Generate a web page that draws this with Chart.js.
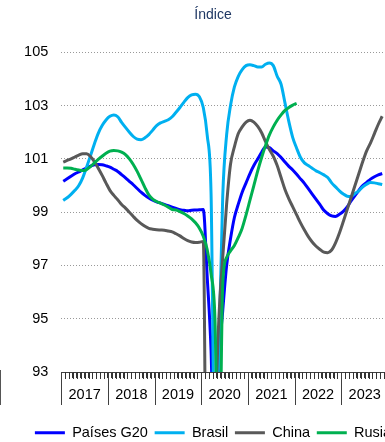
<!DOCTYPE html>
<html lang="es">
<head>
<meta charset="utf-8">
<title>Índice</title>
<script src="https://cdn.jsdelivr.net/npm/chart.js@4.4.1/dist/chart.umd.min.js"></script>
<style>
  html, body { margin: 0; padding: 0; background: #fff; overflow: hidden; }
  #wrap { position: relative; width: 385px; height: 442px; overflow: hidden; }
  #chart { position: absolute; left: 0; top: 0; }
  .edge { position: absolute; left: 0; top: 370px; width: 1px; height: 35px; background: #555; }
</style>
</head>
<body>
<div id="wrap">
  <canvas id="chart" width="426" height="450"></canvas>
  <div class="edge"></div>
</div>
<script>
// índice mensual, enero 2017 en adelante
const years = ["2017", "2018", "2019", "2020", "2021", "2022", "2023"];
const seriesNames = ["Países G20", "Brasil", "China", "Rusia"];

const g20 = [
  100.16, 100.25, 100.35, 100.44, 100.51, 100.59, 100.66, 100.73, 100.78, 100.79, 100.78, 100.74,
  100.69, 100.61, 100.53, 100.41, 100.29, 100.16, 100.03, 99.89, 99.75, 99.63, 99.53, 99.45,
  99.39, 99.34, 99.29, 99.24, 99.19, 99.14, 99.09, 99.07, 99.05, 99.07, 99.08, 99.09,
  99.1, 96.6, 93.8, 88.5, 93.3, 95.3, 97.0, 98.0, 98.8, 99.3, 99.75, 100.1,
  100.45, 100.75, 101.0, 101.25, 101.45, 101.42, 101.3, 101.2, 101.05, 100.88, 100.72, 100.58,
  100.42, 100.25, 100.08, 99.88, 99.68, 99.48, 99.28, 99.07, 98.94, 98.86, 98.84, 98.92,
  99.03, 99.2, 99.42, 99.62, 99.82, 100.0, 100.12, 100.24, 100.33, 100.4, 100.45,
];

const brasil = [
  99.44, 99.54, 99.67, 99.82, 100.0, 100.29, 100.69, 101.12, 101.56, 101.96, 102.25, 102.46,
  102.6, 102.65, 102.58, 102.37, 102.18, 102.0, 101.84, 101.74, 101.72, 101.79, 101.91, 102.08,
  102.25, 102.35, 102.41, 102.47, 102.58, 102.75, 102.93, 103.12, 103.3, 103.4, 103.43, 103.33,
  102.93, 101.9, 99.7, 89.5, 93.6, 99.6, 101.9, 103.0, 103.7, 104.1, 104.35, 104.5,
  104.53, 104.5, 104.45, 104.45, 104.55, 104.6, 104.5, 104.1, 103.8, 103.1, 102.4, 101.8,
  101.4, 101.05, 100.85, 100.75, 100.65, 100.55, 100.48, 100.4, 100.3, 100.1, 99.95, 99.8,
  99.68, 99.6, 99.59, 99.7, 99.8, 99.95, 100.05, 100.11, 100.1, 100.07, 100.04,
];

const china = [
  100.88, 100.94, 101.0, 101.07, 101.14, 101.19, 101.19, 101.09, 100.9, 100.65, 100.38, 100.09,
  99.82, 99.63, 99.47, 99.29, 99.15, 99.0, 98.84, 98.69, 98.57, 98.47, 98.39, 98.36,
  98.34, 98.33, 98.32, 98.29, 98.26, 98.19, 98.11, 98.01, 97.93, 97.88, 97.86, 97.87,
  97.9, 84.0, 83.0, 90.5, 95.0, 97.3, 99.3, 100.8, 101.45, 101.95, 102.2, 102.38,
  102.45, 102.38, 102.22, 101.98, 101.65, 101.35, 101.1, 100.75, 100.3, 99.85, 99.5, 99.2,
  98.9, 98.6, 98.33, 98.08, 97.88, 97.72, 97.6, 97.5, 97.48, 97.58, 97.85, 98.22,
  98.65, 99.1, 99.55, 100.0, 100.45, 100.9, 101.3, 101.6, 101.95, 102.3, 102.6,
];

const rusia = [
  100.66, 100.66, 100.65, 100.61, 100.58, 100.56, 100.6, 100.71, 100.85, 100.98, 101.1, 101.21,
  101.29, 101.31, 101.3, 101.25, 101.16, 101.0, 100.79, 100.53, 100.23, 99.92, 99.65, 99.49,
  99.4, 99.34, 99.27, 99.19, 99.1, 99.08, 99.02, 98.95, 98.86, 98.75, 98.6, 98.4,
  98.1, 97.6, 96.7, 95.0, 88.0, 96.3, 97.3, 97.55, 97.75, 98.05, 98.4, 98.9,
  99.45, 100.0, 100.55, 101.05, 101.5, 101.9, 102.2, 102.45, 102.65, 102.82, 102.93, 103.02,
  103.08,
];

const yTicks = [93, 95, 97, 99, 101, 103, 105];

const font = "Arial, 'Liberation Sans', sans-serif";

// cada mes se dibuja en el centro de su intervalo
function toPoints(values) {
  return values.map((v, i) => ({ x: i + 0.5, y: v }));
}

// marcas mensuales cortas y separadores largos entre años
const monthTicks = {
  id: "monthTicks",
  afterDraw(chart) {
    const x = chart.scales.x;
    const ctx = chart.ctx;
    const bottom = Math.round(chart.chartArea.bottom);
    ctx.save();
    ctx.fillStyle = "#333";
    for (let m = 0; m <= 91; m++) {
      const px = Math.round(x.getPixelForValue(m));
      ctx.fillRect(px, bottom, 1, 7);
    }
    ctx.fillStyle = "#404040";
    for (let m = 0; m <= years.length * 12; m += 12) {
      const px = Math.round(x.getPixelForValue(m));
      ctx.fillRect(px, bottom, 1, 33);
    }
    ctx.restore();
  },
};

const colors = ["#0000ff", "#00b0f0", "#595959", "#00b050"];
const allSeries = [g20, brasil, china, rusia];

new Chart(document.getElementById("chart").getContext("2d"), {
  type: "line",
  data: {
    datasets: allSeries.map((values, i) => ({
      label: seriesNames[i],
      data: toPoints(values),
      borderColor: colors[i],
      backgroundColor: colors[i],
      borderWidth: 3,
      pointRadius: 0,
      fill: false,
      cubicInterpolationMode: "monotone",
      order: allSeries.length - i,
    })),
  },
  options: {
    responsive: false,
    animation: false,
    devicePixelRatio: 1,
    layout: { padding: 0 },
    plugins: {
      tooltip: { enabled: false },
      title: {
        display: true,
        text: "Índice",
        color: "#1f3864",
        font: { family: font, size: 14, weight: "normal" },
        padding: { top: 6.6, bottom: 28.9 },
      },
      legend: {
        position: "bottom",
        labels: {
          usePointStyle: true,
          pointStyle: "line",
          pointStyleWidth: 30,
          padding: 6.75,
          color: "#000",
          font: { family: font, size: 14.5 },
          sort: (a, b) => a.datasetIndex - b.datasetIndex,
        },
      },
    },
    scales: {
      x: {
        type: "linear",
        min: 0,
        max: 91.7,
        afterFit(scale) {
          scale.height = 46.7;
        },
        grid: {
          drawOnChartArea: false,
          drawTicks: true,
          tickLength: 6,
          tickColor: "#333",
          color: "#333",
        },
        border: { display: true, color: "#404040", width: 1 },
        ticks: {
          stepSize: 1,
          autoSkip: false,
          maxTicksLimit: 200,
          maxRotation: 0,
          minRotation: 0,
          padding: 8,
          color: "#000",
          font: { family: font, size: 14.5 },
          callback: (v) => (v % 12 === 6 && years[(v - 6) / 12]) || "",
        },
      },
      y: {
        min: 93,
        max: 105,
        afterFit(scale) {
          scale.width = 61.3;
        },
        afterBuildTicks(scale) {
          scale.ticks = yTicks.map((v) => ({ value: v }));
        },
        grid: {
          color: "#999",
          lineWidth: 1,
          drawTicks: false,
        },
        border: { display: false, dash: [1, 2] },
        ticks: {
          padding: 13,
          color: "#000",
          font: { family: font, size: 14.5 },
        },
      },
    },
  },
  plugins: [monthTicks],
});
</script>
</body>
</html>
